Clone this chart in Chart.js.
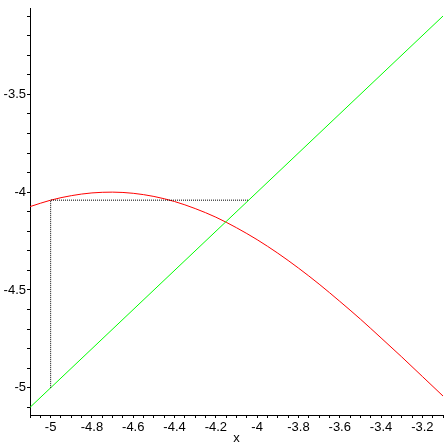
<!DOCTYPE html>
<html>
<head>
<meta charset="utf-8">
<script src="https://cdn.jsdelivr.net/npm/chart.js@4/dist/chart.umd.min.js"></script>
<style>
  html, body { margin: 0; padding: 0; background: #fff; }
  #wrap { width: 446px; height: 446px; }
</style>
</head>
<body>
<div id="wrap"><canvas id="plot"></canvas></div>
<script>
// red curve, every 0.1 in x
const curveX = [-5.1, -5.0, -4.9, -4.8, -4.7, -4.6, -4.5, -4.4, -4.3, -4.2, -4.1,
                -4.0, -3.9, -3.8, -3.7, -3.6, -3.5, -3.4, -3.3, -3.2, -3.1];
const curveY = [-4.074, -4.041, -4.018, -4.004, -4.000, -4.006, -4.022, -4.048, -4.084, -4.128, -4.182,
                -4.243, -4.312, -4.388, -4.470, -4.558, -4.649, -4.745, -4.842, -4.942, -5.042];

// green diagonal y = x
const diagX = [-5.1, -3.1];
const diagY = [-5.1, -3.1];

// dotted step: up from the diagonal, across to the diagonal
const stepX = [-5.0, -5.0, -4.041];
const stepY = [-5.0, -4.041, -4.041];

const toPoints = (xs, ys) => xs.map((x, i) => ({ x: x, y: ys[i] }));

document.addEventListener("DOMContentLoaded", function () {
  const ctx = document.getElementById("plot").getContext("2d");
  const font = { family: "'Liberation Sans', Arial, sans-serif", size: 13 };

  new Chart(ctx, {
    type: "line",
    data: {
      datasets: [
        {
          data: toPoints(stepX, stepY),
          borderColor: "#000000",
          borderWidth: 1,
          borderDash: [1, 1],
          pointRadius: 0,
        },
        {
          data: toPoints(diagX, diagY),
          borderColor: "#00ff00",
          borderWidth: 1,
          pointRadius: 0,
        },
        {
          data: toPoints(curveX, curveY),
          borderColor: "#ff0000",
          borderWidth: 1,
          pointRadius: 0,
          cubicInterpolationMode: "monotone",
        },
      ],
    },
    options: {
      responsive: true,
      maintainAspectRatio: false,
      animation: false,
      layout: { padding: { top: 3, right: 3, left: 0, bottom: 0 } },
      plugins: { legend: { display: false }, tooltip: { enabled: false } },
      scales: {
        x: {
          type: "linear",
          min: -5.1,
          max: -3.1,
          afterFit: (s) => { s.height = 31; },
          border: { color: "#000", width: 1 },
          grid: { drawOnChartArea: false, tickLength: 3, color: "#000" },
          title: { display: true, text: "x", color: "#000", font: font, padding: 0 },
          ticks: {
            stepSize: 0.05,
            includeBounds: false,
            autoSkip: false,
            maxRotation: 0,
            padding: 2,
            color: "#000",
            font: font,
            callback: function (v) {
              const k = v * 5;
              if (Math.abs(k - Math.round(k)) < 1e-6) return String(Math.round(v * 10) / 10);
              return "";
            },
          },
        },
        y: {
          type: "linear",
          min: -5.139,
          max: -3.063,
          afterFit: (s) => { s.width = 30; },
          border: { color: "#000", width: 1 },
          grid: { drawOnChartArea: false, tickLength: 3, color: "#000" },
          ticks: {
            stepSize: 0.1,
            includeBounds: false,
            autoSkip: false,
            padding: 1,
            color: "#000",
            font: font,
            callback: function (v) {
              const k = v * 2;
              if (Math.abs(k - Math.round(k)) < 1e-6) return String(Math.round(v * 10) / 10);
              return "";
            },
          },
        },
      },
    },
  });
});
</script>
</body>
</html>
